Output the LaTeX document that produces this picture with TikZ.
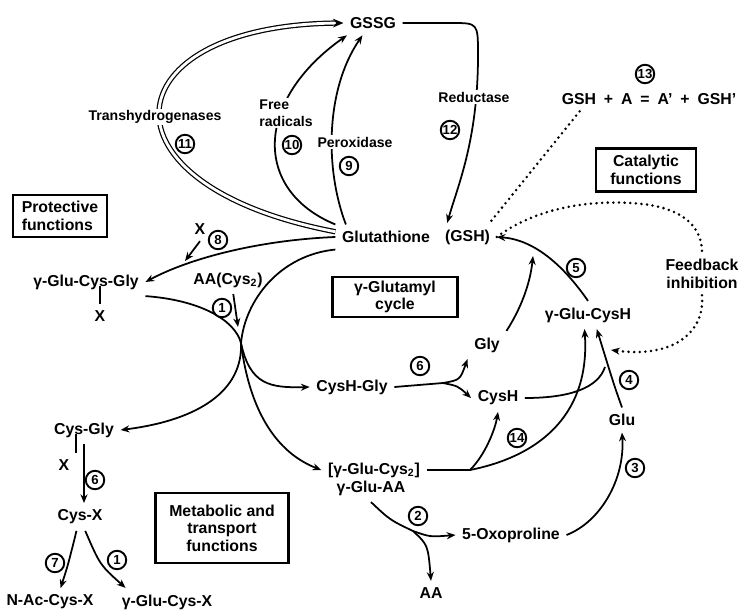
\documentclass[tikz,border=0pt]{standalone}
\usepackage{fontspec}
\setmainfont{Liberation Sans}
\usetikzlibrary{arrows.meta, calc, positioning}

\begin{document}
\begin{tikzpicture}[x=0.02cm, y=-0.02cm,
	line width=1pt,
	>={Stealth[length=5pt,width=4pt]},
	every node/.style={font=\bfseries\fontsize{9}{10}\selectfont},
	enzyme/.style={fill=white, inner sep=1pt, font=\bfseries\fontsize{8}{9.5}\selectfont, align=left},
	num/.style={draw, circle, fill=white, inner sep=0pt, minimum size=0.37cm, line width=1.1pt, font=\bfseries\fontsize{7.5}{7.5}\selectfont},
	funcbox/.style={draw, line width=1.2pt, align=center, inner sep=2pt},
	feedback/.style={line width=1.6pt, dash pattern=on 0pt off 3.2pt, line cap=round}
	]
\useasboundingbox (0,0) rectangle (746,615);

% Metabolites
\node (gssg) at (373,23) {GSSG};
\node (glut) at (386,237) {Glutathione};
\node[right=1pt of glut] (gshp) {(GSH)};
\node (eq) at (649,99) {GSH\enspace+\enspace A\enspace=\enspace A'\enspace+\enspace GSH'};

\node (gcg) at (86,282) {γ-Glu-Cys-Gly};
\node (x1) at (100,316) {X};
\node (x8) at (200,229) {X};
\node (aacys) at (228,280) {AA(Cys\textsubscript{2})};
\node (cyshgly) at (352,387) {CysH-Gly};
\node (gly) at (487,345) {Gly};
\node (cysh) at (498,398) {CysH};
\node (gglucysh) at (588,315) {γ-Glu-CysH};
\node (glu) at (622,420) {Glu};
\node (gcys2) at (374,470) {[γ-Glu-Cys\textsubscript{2}]};
\node (gaa) at (371,488) {γ-Glu-AA};
\node (oxo) at (511,535) {5-Oxoproline};
\node (aa) at (431,593) {AA};
\node (cysgly) at (84,430) {Cys-Gly};
\node (x6) at (64,465) {X};
\node (cysx) at (80,517) {Cys-X};
\node (nac) at (50,602) {N-Ac-Cys-X};
\node (gcx) at (167,602) {γ-Glu-Cys-X};

\node[align=center] (fb) at (702,274) {Feedback\\inhibition};

% Function boxes
\node[funcbox, align=left, minimum width=1.88cm, minimum height=0.84cm] (protect) at (60,216) {Protective\\functions};
\node[funcbox, minimum width=2cm, minimum height=0.86cm] (catal) at (646,170) {Catalytic\\functions};
\node[funcbox, minimum width=2.5cm, minimum height=0.8cm] (cycle) at (395,297) {γ-Glutamyl\\cycle};
\node[funcbox, minimum width=2.66cm, minimum height=1.4cm] (metab) at (222,528) {Metabolic and\\transport\\functions};

% Junctions
\coordinate (m8) at (185,261);
\coordinate (c1) at (238,327);
\coordinate (cross) at (241,343);
\coordinate (j6) at (443,383);
\coordinate (m5) at (533,256);
\coordinate (j4) at (605,367);
\coordinate (j14) at (470,470);
\coordinate (j2) at (413,531);
\coordinate (fbend) at (611,350);

% Oxidation and reduction
\draw[-{Stealth[length=6pt,width=5pt]}, double, double distance=1.6pt, line width=0.7pt] ([yshift=3pt]glut.west) .. controls (90,185) and (110,25) .. (gssg.west);
\draw[->] (glut.north west) .. controls (252,190) and (255,100) .. ([xshift=2pt]gssg.south west);
\draw[->] ([xshift=6pt]glut.north west) .. controls (325,170) and (325,90) .. ([xshift=-6pt]gssg.south);
\draw[->] (gssg.east) -- (452,23) .. controls (478,23) .. (478,55) .. controls (478,140) and (458,185) .. ([xshift=5pt]gshp.north west);
\draw[feedback] ([xshift=14pt]eq.south west) -- ([xshift=-4pt]gshp.north east);

% Protective side
\draw[->] (glut.west) .. controls (260,240) and (190,258) .. (gcg.east);
\draw[->] (x8.south) -- (m8);
\draw (x1.north) -- (x1.north |- gcg.base);
\draw[->] ([xshift=3pt]aacys.south) -- (c1);
\draw[->] (gcg.south east) .. controls (200,300) and (235,320) .. (cross) .. controls (248,400) and (270,450) .. (gcys2.west);
\draw[->] (cross) .. controls (250,385) and (270,388) .. (cyshgly.west);
\draw[->] (glut.south west) .. controls (280,255) and (245,300) .. (cross) .. controls (243,390) and (200,420) .. (cysgly.east);

% gamma-glutamyl cycle
\draw (cyshgly.east) -- (j6);
\draw[->] (j6) .. controls (460,380) .. (gly.south west);
\draw[->] (j6) .. controls (458,386) .. (cysh.west);
\draw[->] (gly.north east) .. controls (520,310) and (530,285) .. (m5);
\draw[->] (gglucysh.north) .. controls (570,275) and (540,240) .. (gshp.east);
\draw (cysh.east) .. controls (570,398) and (598,388) .. (j4);
\draw[->] (glu.north) .. controls (614,385) .. ([xshift=5pt]gglucysh.south);
\draw (gcys2.east) -- (j14);
\draw[->] (j14) .. controls (545,455) and (590,410) .. ([xshift=-2pt]gglucysh.south);
\draw[->] (j14) .. controls (485,455) and (495,430) .. (cysh.south);
\draw[->] (gaa.south) .. controls (390,520) .. (j2) .. controls (430,537) .. (oxo.west);
\draw[->] (j2) .. controls (428,545) .. (aa.north);
\draw[->] (oxo.east) .. controls (600,522) and (625,480) .. (glu.south);

% Feedback inhibition
\draw[feedback] (gshp.east) .. controls (540,205) and (600,198) .. (650,205) .. controls (690,212) and (702,232) .. (fb.north);
\draw[feedback, ->] (fb.south) .. controls (705,335) and (670,358) .. (fbend);

% Metabolic side
\draw (x6.north east) -- (x6.north east |- cysgly.base);
\draw[->] (cysgly.south) -- (cysgly.south |- cysx.north);
\draw[->] ([xshift=-2pt]cysx.south) .. controls (68,565) .. ([xshift=6pt]nac.north);
\draw[->] ([xshift=3pt]cysx.south) .. controls (100,565) .. ([xshift=6pt]gcx.north west);

% Enzyme labels
\node[enzyme] (trans) at (155,117) {Transhydrogenases};
\node[enzyme] (freerad) at (286,113) {Free\\radicals};
\node[enzyme] (perox) at (355,142) {Peroxidase};
\node[enzyme] (reduct) at (474,97) {Reductase};

% Reaction numbers
\node[num] (n11) at (185,144) {11};
\node[num] (n10) at (292,145) {10};
\node[num] (n9) at (349,166) {9};
\node[num] (n12) at (450,130) {12};
\node[num] (n13) at (645,74) {13};
\node[num] (n8) at (218,240) {8};
\node[num] (n1a) at (222,308) {1};
\node[num] (n6a) at (420,366) {6};
\node[num] (n5) at (576,268) {5};
\node[num] (n4) at (629,380) {4};
\node[num] (n14) at (517,438) {14};
\node[num] (n3) at (635,468) {3};
\node[num] (n2) at (418,516) {2};
\node[num] (n6b) at (95,480) {6};
\node[num] (n7) at (55,563) {7};
\node[num] (n1b) at (117,560) {1};

\end{tikzpicture}
\end{document}
